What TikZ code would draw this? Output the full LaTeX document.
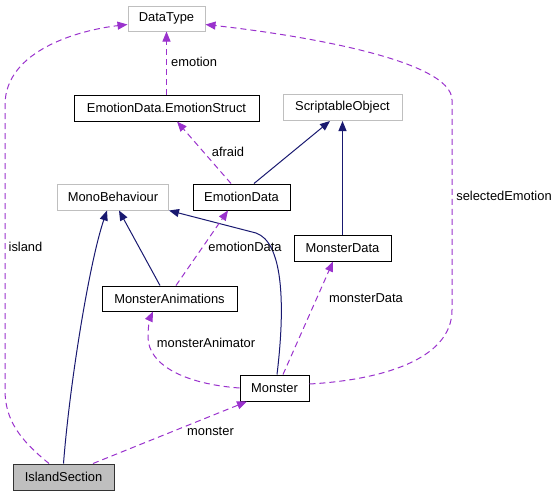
\documentclass[tikz,border=0pt]{standalone}
\usepackage{fontspec}
\setmainfont{Liberation Sans}
\usepackage{tikz}
\usetikzlibrary{arrows.meta}
\definecolor{inhcol}{HTML}{191970}
\definecolor{usecol}{HTML}{9A32CD}
\definecolor{extgray}{HTML}{BFBFBF}

\begin{document}
\begin{tikzpicture}[x=1pt,y=-1pt,
  box/.style={draw,line width=1pt,rectangle,inner sep=0pt,minimum height=26pt,font=\fontsize{12.9}{14}\selectfont},
  cls/.style={box,draw=black,fill=white},
  extcls/.style={box,draw=extgray,fill=white},
  focus/.style={box,draw=black!80,fill=extgray},
  inherit/.style={draw=inhcol,line width=1pt,-{Triangle[length=10pt,width=8pt]}},
  usage/.style={draw=usecol,line width=1pt,dash pattern=on 6pt off 4pt,-{Triangle[length=10pt,width=8pt]}},
  lbl/.style={font=\fontsize{12.9}{14}\selectfont,inner sep=0pt}]
 \useasboundingbox (0,0) rectangle (559,496);
 % classes
 \node[extcls,minimum width=77pt,minimum height=25pt] (datatype) at (166.5,18.5) {DataType};
 \node[cls,minimum width=185pt] (estruct) at (166.5,108) {EmotionData.EmotionStruct};
 \node[extcls,minimum width=119pt] (scriptable) at (342.5,107.5) {ScriptableObject};
 \node[extcls,minimum width=111pt] (mono) at (113,197) {MonoBehaviour};
 \node[cls,minimum width=97pt] (edata) at (241.5,197) {EmotionData};
 \node[cls,minimum width=97pt] (mdata) at (342.5,248) {MonsterData};
 \node[cls,minimum width=135pt,minimum height=25pt] (manim) at (169.5,298.5) {MonsterAnimations};
 \node[cls,minimum width=69pt] (monster) at (274.5,388) {Monster};
 \node[focus,minimum width=101pt] (island) at (63.5,477) {IslandSection};
 % inheritance
 \draw[inherit] (island.north) .. controls (70,380) and (90,260) .. ([xshift=-6pt]mono.south);
 \draw[inherit] ([xshift=-9.5pt]manim.north) -- ([xshift=6pt]mono.south);
 \draw[inherit] ([xshift=2.5pt]monster.north) .. controls (286,300) and (282,242) .. (256,233) -- (mono.south east);
 \draw[inherit] ([xshift=12.5pt]edata.north) -- ([xshift=-12.5pt]scriptable.south);
 \draw[inherit] (mdata.north) -- (scriptable.south);
 % usage
 \draw[usage] (estruct.north) -- (datatype.south);
 \node[lbl,anchor=west] (lemotion) at (171,62) {emotion};
 \draw[usage] ([xshift=-10.5pt]edata.north) -- ([xshift=10.5pt]estruct.south);
 \node[lbl] (lafraid) at (228,152) {afraid};
 \draw[usage] ([xshift=6.5pt]manim.north) -- ([xshift=-13.5pt]edata.south);
 \node[lbl] (ledata) at (245,247) {emotionData};
 \draw[usage] ([xshift=8.5pt]monster.north) -- ([xshift=-9.5pt]mdata.south);
 \node[lbl] (lmdata) at (366,298) {monsterData};
 \draw[usage] (monster.west) .. controls (185,384) and (148,365) .. (148,337) .. controls (148,326) and (150,318) .. ([xshift=-16.5pt]manim.south);
 \node[lbl] (lmanim) at (206,343) {monsterAnimator};
 \draw[usage] ([yshift=4pt]monster.east) .. controls (380,380) and (452,360) .. (452,310) -- (452,100) .. controls (452,60) and (300,35) .. ([yshift=-6pt]datatype.east);
 \node[lbl] (lsel) at (504,196) {selectedEmotion};
 \draw[usage] ([xshift=-14.5pt]island.north) .. controls (20,440) and (5,420) .. (5,390) -- (5,105) .. controls (5,50) and (80,30) .. ([yshift=-6pt]datatype.west);
 \node[lbl] (lisland) at (25.5,247) {island};
 \draw[usage] ([xshift=29.5pt]island.north) -- ([xshift=-27.5pt]monster.south);
 \node[lbl] (lmonster) at (210.5,431) {monster};
\end{tikzpicture}
\end{document}
